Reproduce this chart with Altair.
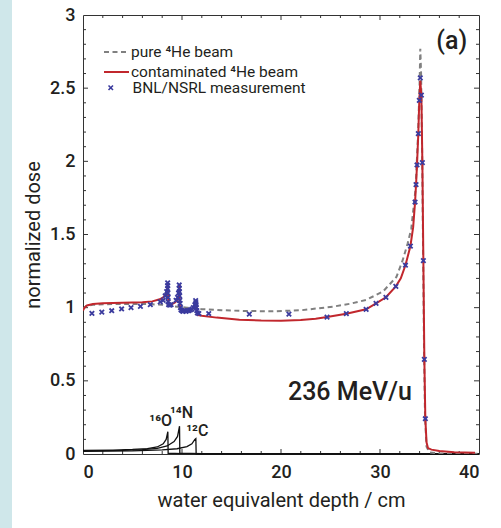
import altair as alt
import pandas as pd

# ---------------- data ----------------
pure_x = [0, 0.3, 1, 3, 6, 7, 8, 9, 10.5, 12, 14, 16, 19, 22, 25.25, 27, 28.6, 30.3, 31.66,
          32.3, 32.8, 33.16, 33.6, 33.84, 34.0, 34.07, 34.15, 34.25, 34.35, 34.45, 34.55,
          34.7, 35, 36, 40]
pure_y = [0.99, 1.01, 1.02, 1.025, 1.025, 1.023, 1.02, 1.01, 1.0, 0.99, 0.983, 0.978, 0.975,
          0.982, 1.007, 1.027, 1.053, 1.11, 1.21, 1.326, 1.44, 1.54, 1.816, 2.18, 2.53, 2.77,
          2.6, 2.1, 1.4, 0.7, 0.25, 0.05, 0.01, 0.003, 0.002]

red_x = [0, 0.15, 0.4, 1, 2, 4, 6, 7, 7.75, 8.1, 8.35, 8.5, 8.57, 8.62, 9.0, 9.3, 9.5, 9.65,
         9.72, 9.8, 10.2, 10.7, 11.1, 11.3, 11.42, 11.55, 12, 13.5, 15.8, 18, 20, 22, 23.5,
         24.65, 26.6, 28.6, 29.6, 30.6, 31.6, 32.1, 32.57, 33.07, 33.35, 33.54, 33.64, 33.74,
         33.87, 33.97, 34.07, 34.18, 34.28, 34.38, 34.48, 34.58, 34.7, 34.85, 35.2, 36, 37.5,
         39.6]
red_y = [0.98, 1.0, 1.015, 1.025, 1.03, 1.033, 1.037, 1.043, 1.057, 1.07, 1.09, 1.12, 1.165,
         1.02, 1.025, 1.035, 1.05, 1.08, 1.155, 0.99, 0.985, 0.987, 0.995, 1.01, 1.045, 0.95,
         0.945, 0.932, 0.918, 0.912, 0.911, 0.916, 0.925, 0.936, 0.959, 0.989, 1.03, 1.071,
         1.146, 1.2, 1.29, 1.42, 1.55, 1.72, 1.84, 1.975, 2.19, 2.42, 2.55, 2.45, 1.99, 1.32,
         0.65, 0.24, 0.08, 0.04, 0.03, 0.02, 0.012, 0.008]

meas_x = [0.9, 1.9, 2.9, 3.9, 4.85, 5.8, 6.8, 7.8,
          8.1, 8.3, 8.45, 8.55, 8.55, 8.55, 8.57, 8.6, 8.6, 8.65, 8.76, 8.9,
          9.4, 9.55, 9.65, 9.72, 9.72, 9.74, 9.76, 9.78, 9.8, 9.85, 9.9,
          10.0, 10.1, 10.25, 10.4, 10.55, 10.7, 10.85, 11.0,
          11.15, 11.3, 11.38, 11.4, 11.42, 11.45, 11.5, 11.55, 11.7,
          12.7, 16.8, 20.8, 24.65, 26.6, 28.6, 29.6, 30.6, 31.6, 32.57, 33.07,
          33.54, 33.64, 33.74, 33.87, 33.97, 34.07, 34.18, 34.28, 34.38, 34.48, 34.58]
meas_y = [0.961, 0.97, 0.979, 0.991, 1.0, 1.009, 1.021, 1.039,
          1.05, 1.08, 1.11, 1.17, 1.15, 1.13, 1.1, 1.07, 1.04, 1.02, 1.018, 1.02,
          1.05, 1.07, 1.1, 1.155, 1.13, 1.11, 1.08, 1.05, 1.03, 1.0, 0.985,
          0.98, 0.975, 0.98, 0.975, 0.98, 0.98, 0.985, 0.99,
          1.0, 1.02, 1.048, 1.035, 1.02, 1.0, 0.98, 0.965, 0.96,
          0.96, 0.956, 0.956, 0.936, 0.959, 0.989, 1.03, 1.071, 1.146, 1.29, 1.42,
          1.722, 1.841, 1.975, 2.189, 2.416, 2.57, 2.453, 1.991, 1.322, 0.646, 0.241]

o_x = [0, 3, 5, 6.5, 7.5, 8.1, 8.4, 8.57, 8.6, 10, 40]
o_y = [0.025, 0.027, 0.031, 0.037, 0.048, 0.07, 0.1, 0.152, 0.005, 0.003, 0.001]
n_x = [0, 4, 6, 7.5, 8.5, 9.2, 9.55, 9.75, 9.78, 12, 40]
n_y = [0.022, 0.025, 0.03, 0.038, 0.055, 0.085, 0.12, 0.19, 0.005, 0.003, 0.001]
c_x = [0, 5, 8, 9.5, 10.5, 11.0, 11.3, 11.4, 11.43, 40]
c_y = [0.018, 0.021, 0.028, 0.036, 0.05, 0.07, 0.1, 0.105, 0.0, 0.0]

ion_labels = ["¹⁶O", "¹⁴N", "¹²C"]
ion_lab_x = [7.85, 9.95, 11.55]
ion_lab_y = [0.225, 0.28, 0.16]

pure_name = "pure ⁴He beam"
red_name = "contaminated ⁴He beam"
meas_name = "BNL/NSRL measurement"

note_text = ["236 MeV/u", "(a)"]
note_x = [20.7, 38.8]
note_y = [0.425, 2.82]

x_labels = [0, 10, 20, 30, 40]
y_labels = [0, 0.5, 1, 1.5, 2, 2.5, 3]
x_minor = [v for v in range(2, 40, 2) if v % 10 != 0]
x_major = [10, 20, 30]
y_minor = [round(i * 0.1, 1) for i in range(1, 30) if i % 5 != 0]
y_major = [0.5, 1, 1.5, 2, 2.5]

# ---------------- style ----------------
W, H = 396, 439
FONT = "Roboto"
TXT = "#231f20"
FRAME = "#333333"
RED = "#c1272d"
GRAY = "#808080"
BLUE = "#3b3b9e"
XPATH = "M-1,-1L1,1M1,-1L-1,1"

xs = alt.Scale(domain=[0, 40], nice=False, zero=False)
ys = alt.Scale(domain=[0, 3], nice=False, zero=False)

pure_df = pd.DataFrame({"x": pure_x, "y": pure_y, "s1": pure_name, "i": range(len(pure_x))})
red_df = pd.DataFrame({"x": red_x, "y": red_y, "s2": red_name, "i": range(len(red_x))})
frag_df = pd.concat([
    pd.DataFrame({"x": o_x, "y": o_y, "ion": "O", "i": range(len(o_x))}),
    pd.DataFrame({"x": n_x, "y": n_y, "ion": "N", "i": range(len(n_x))}),
    pd.DataFrame({"x": c_x, "y": c_y, "ion": "C", "i": range(len(c_x))}),
])
meas_df = pd.DataFrame({"x": meas_x, "y": meas_y, "kind": meas_name})
ion_df = pd.DataFrame({"x": ion_lab_x, "y": ion_lab_y, "t": ion_labels})

xaxis = alt.Axis(values=x_labels, title="water equivalent depth / cm", ticks=False, domain=False,
                 grid=False, labelPadding=9, labelFontSize=18, labelFont=FONT, labelColor=TXT,
                 titleFontSize=20, titleFont=FONT, titleColor=TXT, titleFontWeight="normal",
                 titlePadding=9, format="~g", labelFontWeight=500)
yaxis = alt.Axis(values=y_labels, title="normalized dose", ticks=False, domain=False, grid=False,
                 labelPadding=8, labelFontSize=18, labelFont=FONT, labelColor=TXT,
                 titleFontSize=20, titleFont=FONT, titleColor=TXT, titleFontWeight="normal",
                 titlePadding=6, format="~g", labelFontWeight=500)

leg_common = dict(orient="none", title=None, padding=0, labelFont=FONT, labelFontSize=15.5,
                  labelColor=TXT, labelLimit=0)

pure_line = alt.Chart(pure_df).mark_line(strokeWidth=2, color=GRAY, clip=True).encode(
    x=alt.X("x:Q", scale=xs, axis=xaxis),
    y=alt.Y("y:Q", scale=ys, axis=yaxis),
    strokeDash=alt.StrokeDash("s1:N", scale=alt.Scale(domain=[pure_name], range=[[5, 3.5]]),
                              legend=alt.Legend(legendX=20, legendY=23.5, symbolType="stroke",
                                                symbolSize=625, symbolStrokeWidth=2,
                                                symbolStrokeColor=GRAY, labelOffset=1,
                                                **leg_common)),
    order="i:Q",
)

red_line = alt.Chart(red_df).mark_line(strokeWidth=2, clip=True).encode(
    x=alt.X("x:Q", scale=xs), y=alt.Y("y:Q", scale=ys),
    color=alt.Color("s2:N", scale=alt.Scale(domain=[red_name], range=[RED]),
                    legend=alt.Legend(legendX=20, legendY=43.5, symbolType="stroke",
                                      symbolSize=625, symbolStrokeWidth=2, labelOffset=1,
                                      **leg_common)),
    order="i:Q",
)

frags = alt.Chart(frag_df).mark_line(strokeWidth=1.3, color="#111111").encode(
    x=alt.X("x:Q", scale=xs), y=alt.Y("y:Q", scale=ys), detail="ion:N", order="i:Q")

points = alt.Chart(meas_df).mark_point(filled=False, size=20, strokeWidth=1.8, color=BLUE,
                                       opacity=1).encode(
    x=alt.X("x:Q", scale=xs), y=alt.Y("y:Q", scale=ys),
    shape=alt.Shape("kind:N", scale=alt.Scale(domain=[meas_name], range=[XPATH]),
                    legend=alt.Legend(legendX=20, legendY=65, symbolSize=20,
                                      symbolStrokeWidth=1.6, symbolStrokeColor=BLUE,
                                      labelOffset=14, **leg_common)),
)

ion_text = alt.Chart(ion_df).mark_text(font=FONT, fontSize=16, color=TXT, fontWeight=500).encode(
    x=alt.X("x:Q", scale=xs), y=alt.Y("y:Q", scale=ys), text="t:N")

note_df = pd.DataFrame({"x": note_x, "y": note_y, "t": note_text})
notes_l = alt.Chart(note_df.iloc[[0]]).mark_text(font=FONT, fontSize=25, color=TXT, align="left",
                                                 fontWeight=500).encode(
    x=alt.X("x:Q", scale=xs), y=alt.Y("y:Q", scale=ys), text="t:N")
notes_r = alt.Chart(note_df.iloc[[1]]).mark_text(font=FONT, fontSize=25, color=TXT, align="right",
                                                 fontWeight=500).encode(
    x=alt.X("x:Q", scale=xs), y=alt.Y("y:Q", scale=ys), text="t:N")


def ticks(vals, side, length):
    df = pd.DataFrame({"v": vals})
    m = alt.Chart(df).mark_rule(color=FRAME, strokeWidth=1)
    if side == "bottom":
        return m.encode(x=alt.X("v:Q", scale=xs), y=alt.value(H), y2=alt.value(H - length))
    if side == "top":
        return m.encode(x=alt.X("v:Q", scale=xs), y=alt.value(0), y2=alt.value(length))
    if side == "left":
        return m.encode(y=alt.Y("v:Q", scale=ys), x=alt.value(0), x2=alt.value(length))
    return m.encode(y=alt.Y("v:Q", scale=ys), x=alt.value(W), x2=alt.value(W - length))


tick_layers = []
for side in ["bottom", "top"]:
    tick_layers.append(ticks(x_minor, side, 3))
    tick_layers.append(ticks(x_major, side, 5))
for side in ["left", "right"]:
    tick_layers.append(ticks(y_minor, side, 3))
    tick_layers.append(ticks(y_major, side, 5))

strip = alt.Chart(pd.DataFrame({"a": [0]})).mark_rect(color="#cfe7ea", clip=False).encode(
    x=alt.value(-83), x2=alt.value(-71), y=alt.value(-15), y2=alt.value(513))

chart = alt.layer(strip, *tick_layers, frags, pure_line, red_line, points, ion_text,
                  notes_l, notes_r).resolve_legend(
    color="independent", shape="independent", strokeDash="independent"
).properties(
    width=W, height=H,
    padding={"left": 83, "top": 15, "right": 22, "bottom": 74},
    autosize=alt.AutoSizeParams(type="none"),
    background="white",
).configure_view(stroke=FRAME, strokeWidth=1)

chart.save("out.html", embed_options={"renderer": "svg", "actions": False})
